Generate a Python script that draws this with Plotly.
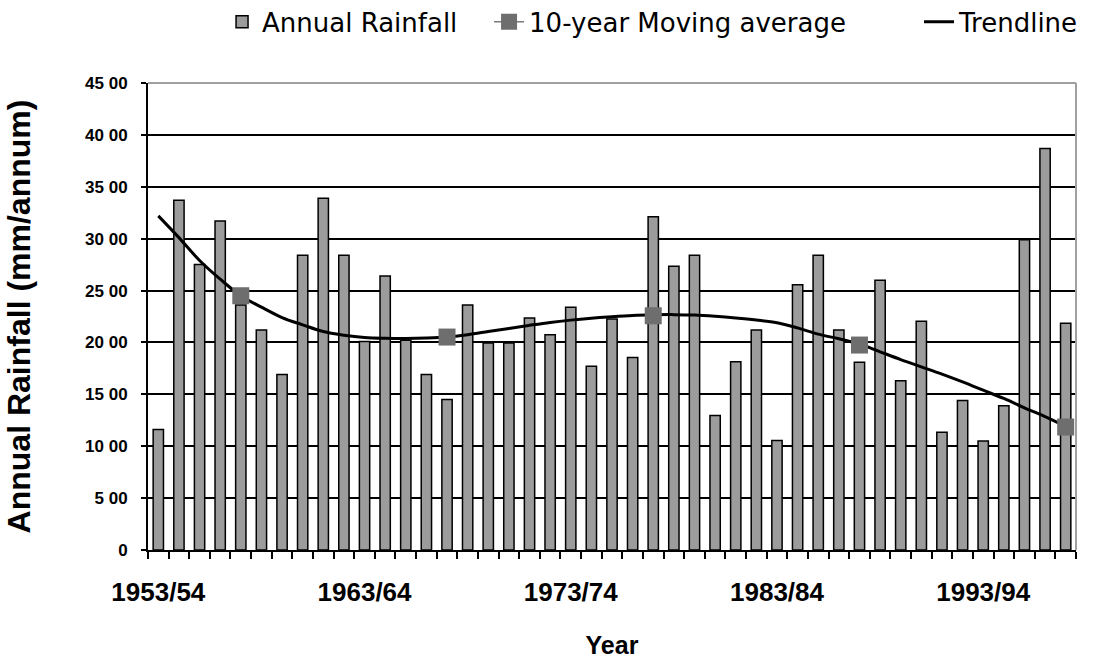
import plotly.graph_objects as go

# Seasons (hydrological years)
seasons = [
    "1953/54", "1954/55", "1955/56", "1956/57", "1957/58", "1958/59", "1959/60", "1960/61", "1961/62", "1962/63",
    "1963/64", "1964/65", "1965/66", "1966/67", "1967/68", "1968/69", "1969/70", "1970/71", "1971/72", "1972/73",
    "1973/74", "1974/75", "1975/76", "1976/77", "1977/78", "1978/79", "1979/80", "1980/81", "1981/82", "1982/83",
    "1983/84", "1984/85", "1985/86", "1986/87", "1987/88", "1988/89", "1989/90", "1990/91", "1991/92", "1992/93",
    "1993/94", "1994/95", "1995/96", "1996/97", "1997/98",
]

# Annual rainfall (mm/annum)
annual_rainfall = [
    1160, 3370, 2750, 3170, 2360, 2120, 1690, 2840, 3390, 2840,
    2010, 2640, 2020, 1690, 1450, 2360, 1995, 1995, 2235, 2075,
    2340, 1770, 2225, 1855, 3210, 2735, 2840, 1295, 1815, 2120,
    1055, 2555, 2840, 2120, 1810, 2600, 1630, 2205, 1135, 1440,
    1050, 1390, 2990, 3870, 2185,
]

# 10-year moving average, reported every tenth season
moving_average = [
    None, None, None, None, 2450, None, None, None, None, None,
    None, None, None, None, 2052, None, None, None, None, None,
    None, None, None, None, 2257, None, None, None, None, None,
    None, None, None, None, 1975, None, None, None, None, None,
    None, None, None, None, 1185,
]

# Polynomial trendline
trendline = [
    3220, 3010, 2790, 2610, 2450, 2340, 2240, 2170, 2105, 2070,
    2048, 2040, 2038, 2042, 2052, 2075, 2105, 2135, 2165, 2193,
    2215, 2233, 2248, 2260, 2266, 2268, 2264, 2252, 2236, 2216,
    2190, 2140, 2080, 2035, 1985, 1910, 1835, 1765, 1695, 1620,
    1540, 1460, 1370, 1285, 1190,
]

# Only every tenth season is labelled
labelled = ["1953/54", "1963/64", "1973/74", "1983/84", "1993/94"]
x_ticktext = [s if s in labelled else "" for s in seasons]

y_tickvals = [0, 500, 1000, 1500, 2000, 2500, 3000, 3500, 4000, 4500]
y_ticktext = ["0", "5 00", "10 00", "15 00", "20 00", "25 00", "30 00", "35 00", "40 00", "45 00"]

FONT = "Liberation Sans, Arial, sans-serif"
LEGEND_FONT = "DejaVu Sans, Liberation Sans, sans-serif"

fig = go.Figure()

fig.add_trace(go.Bar(
    x=seasons, y=annual_rainfall, name="Annual Rainfall",
    marker=dict(color="#9c9c9c", line=dict(color="black", width=1.5)),
    legend="legend", showlegend=True,
))

fig.add_trace(go.Scatter(
    x=seasons, y=trendline, name="Trendline", mode="lines",
    line=dict(color="black", width=3, shape="spline"),
    legend="legend3", showlegend=True,
))

fig.add_trace(go.Scatter(
    x=seasons, y=moving_average, name="10-year Moving average", mode="lines+markers",
    connectgaps=False,
    line=dict(color="#7a7a7a", width=1.5),
    marker=dict(symbol="square", size=17, color="#6e6e6e"),
    legend="legend2", showlegend=True,
))

legend_common = dict(
    orientation="h", xref="container", yref="container",
    yanchor="middle", y=0.967, xanchor="left",
    font=dict(family=LEGEND_FONT, size=26, color="black"),
    bgcolor="rgba(0,0,0,0)", borderwidth=0,
)

fig.update_layout(
    width=1113, height=662, autosize=False,
    margin=dict(l=148, r=37, t=83, b=112),
    plot_bgcolor="white", paper_bgcolor="white",
    showlegend=True,
    bargap=0.5,
    legend=dict(x=0.1995, **legend_common),
    legend2=dict(x=0.4394, **legend_common),
    legend3=dict(x=0.8257, **legend_common),
    xaxis=dict(
        type="category", tickmode="array", tickvals=seasons, ticktext=x_ticktext,
        range=[-0.5, len(seasons) - 0.5], tickangle=0, automargin=False,
        tickson="boundaries", ticks="outside", ticklen=7, tickwidth=1.5, tickcolor="black",
        showline=True, linecolor="black", linewidth=2, showgrid=False,
        ticklabelstandoff=18,
        tickfont=dict(family=FONT, size=26, color="black", weight="bold"),
        title=dict(text="Year", font=dict(family=FONT, size=25, color="black", weight="bold"), standoff=30),
    ),
    yaxis=dict(
        range=[0, 4500], tickmode="array", tickvals=y_tickvals, ticktext=y_ticktext,
        automargin=False,
        ticks="outside", ticklen=5, tickwidth=2, tickcolor="black",
        showline=True, linecolor="black", linewidth=2,
        showgrid=True, gridcolor="black", gridwidth=2, zeroline=False,
        ticklabelstandoff=10,
        tickfont=dict(family=FONT, size=17, color="black", weight="bold"),
        title=dict(text="Annual Rainfall (mm/annum)",
                   font=dict(family=FONT, size=32, color="black", weight="bold"), standoff=45),
    ),
    shapes=[
        # grey frame along the top and right of the plot area
        dict(type="line", xref="paper", yref="paper", x0=0, x1=1, y0=1, y1=1,
             line=dict(color="#a0a0a0", width=2), layer="above"),
        dict(type="line", xref="paper", yref="paper", x0=1, x1=1, y0=0, y1=1,
             line=dict(color="#a0a0a0", width=2), layer="above"),
    ],
)

fig.write_html("out.html")
